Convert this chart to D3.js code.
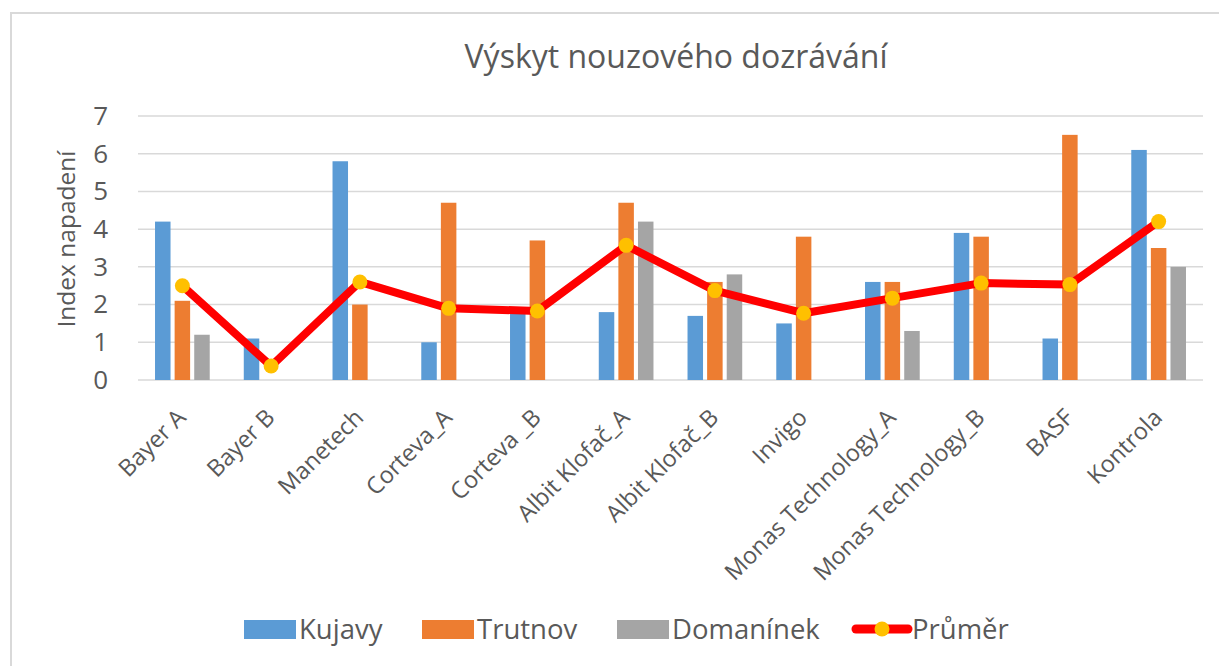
<!DOCTYPE html>
<html>
<head>
<meta charset="utf-8">
<script src="https://cdn.jsdelivr.net/npm/d3@7"></script>
<style>
  body { margin: 0; background: #fff; }
  text { font-family: "Open Sans", sans-serif; fill: #595959; }
</style>
</head>
<body>
<div id="container"></div>
<script>
const categories = ["Bayer A", "Bayer B", "Manetech", "Corteva_A", "Corteva _B", "Albit Klofač_A",
  "Albit Klofač_B", "Invigo", "Monas Technology_A", "Monas Technology_B", "BASF", "Kontrola"];
const kujavy = [4.2, 1.1, 5.8, 1.0, 1.8, 1.8, 1.7, 1.5, 2.6, 3.9, 1.1, 6.1];
const trutnov = [2.1, 0, 2.0, 4.7, 3.7, 4.7, 2.6, 3.8, 2.6, 3.8, 6.5, 3.5];
const domaninek = [1.2, 0, 0, 0, 0, 4.2, 2.8, 0, 1.3, 0, 0, 3.0];
const prumer = [2.5, 0.37, 2.6, 1.9, 1.83, 3.57, 2.37, 1.77, 2.17, 2.57, 2.53, 4.2];
const yTicks = [0, 1, 2, 3, 4, 5, 6, 7];

const series = [
  { name: "Kujavy", values: kujavy, color: "#5B9BD5" },
  { name: "Trutnov", values: trutnov, color: "#ED7D31" },
  { name: "Domanínek", values: domaninek, color: "#A5A5A5" }
];

const w = 1219;
const h = 666;
const svg = d3.select("#container")
  .append("svg")
  .attr("width", w)
  .attr("height", h);

// chart frame
svg.append("rect")
  .attr("x", 11)
  .attr("y", 13)
  .attr("width", w)
  .attr("height", h)
  .attr("fill", "#fff")
  .attr("stroke", "#D9D9D9")
  .attr("stroke-width", 2);

const xScale = d3.scaleBand()
  .domain(categories)
  .range([138, 1203]);

const yScale = d3.scaleLinear()
  .domain([0, 7])
  .range([380, 116]);

// gridlines
svg.append("g")
  .selectAll("line")
  .data(yTicks)
  .enter()
  .append("line")
  .attr("x1", 138)
  .attr("x2", 1203)
  .attr("y1", (d) => yScale(d))
  .attr("y2", (d) => yScale(d))
  .attr("stroke", "#D9D9D9")
  .attr("stroke-width", 1.5);

const yAxis = d3.axisLeft(yScale).tickValues(yTicks).tickFormat(d3.format("d")).tickSize(0).tickPadding(30);
const yG = svg.append("g")
  .attr("transform", "translate(138, 0)")
  .call(yAxis);
yG.select(".domain").remove();
yG.selectAll("text")
  .style("font-size", "26px")
  .style("font-family", "Open Sans")
  .attr("fill", "#595959");

svg.append("text")
  .attr("transform", "translate(75, 239) rotate(-90)")
  .attr("text-anchor", "middle")
  .style("font-size", "24.5px")
  .text("Index napadení");

// bars
const barW = 15.5;
const step = 19.6;
series.forEach((s, i) => {
  svg.append("g")
    .selectAll("rect")
    .data(s.values)
    .enter()
    .append("rect")
    .attr("x", (d, j) => xScale(categories[j]) + xScale.bandwidth() / 2 + (i - 1) * step - barW / 2)
    .attr("y", (d) => yScale(d))
    .attr("width", barW)
    .attr("height", (d) => yScale(0) - yScale(d))
    .attr("fill", s.color);
});

// average line
const line = d3.line()
  .x((d, j) => xScale(categories[j]) + xScale.bandwidth() / 2)
  .y((d) => yScale(d));

svg.append("path")
  .datum(prumer)
  .attr("d", line)
  .attr("fill", "none")
  .attr("stroke", "#FF0000")
  .attr("stroke-width", 8)
  .attr("stroke-linejoin", "round");

svg.append("g")
  .selectAll("circle")
  .data(prumer)
  .enter()
  .append("circle")
  .attr("cx", (d, j) => xScale(categories[j]) + xScale.bandwidth() / 2)
  .attr("cy", (d) => yScale(d))
  .attr("r", 7.5)
  .attr("fill", "#FFC000");

// x labels
const xAxis = d3.axisBottom(xScale).tickSize(0).tickPadding(0);
const xG = svg.append("g")
  .attr("transform", "translate(0, 380)")
  .call(xAxis);
xG.select(".domain").remove();
xG.selectAll("text")
  .style("font-size", "23.5px")
  .style("font-family", "Open Sans")
  .attr("fill", "#595959")
  .attr("text-anchor", "end")
  .attr("dy", "0")
  .attr("transform", "translate(5, 39) rotate(-45)");

// title
svg.append("text")
  .attr("x", 676)
  .attr("y", 68)
  .attr("text-anchor", "middle")
  .style("font-size", "32px")
  .text("Výskyt nouzového dozrávání");

// legend
const legend = svg.append("g");
const legendX = [244, 422, 617];
series.forEach((s, i) => {
  legend.append("rect")
    .attr("x", legendX[i])
    .attr("y", 620)
    .attr("width", 52)
    .attr("height", 19)
    .attr("fill", s.color);
  legend.append("text")
    .attr("x", legendX[i] + 55)
    .attr("y", 639)
    .style("font-size", "27.5px")
    .text(s.name);
});
legend.append("line")
  .attr("x1", 856)
  .attr("x2", 908)
  .attr("y1", 629)
  .attr("y2", 629)
  .attr("stroke", "#FF0000")
  .attr("stroke-width", 9)
  .attr("stroke-linecap", "round");
legend.append("circle")
  .attr("cx", 882)
  .attr("cy", 629)
  .attr("r", 7.5)
  .attr("fill", "#FFC000");
legend.append("text")
  .attr("x", 912)
  .attr("y", 639)
  .style("font-size", "27.5px")
  .text("Průměr");
</script>
</body>
</html>
